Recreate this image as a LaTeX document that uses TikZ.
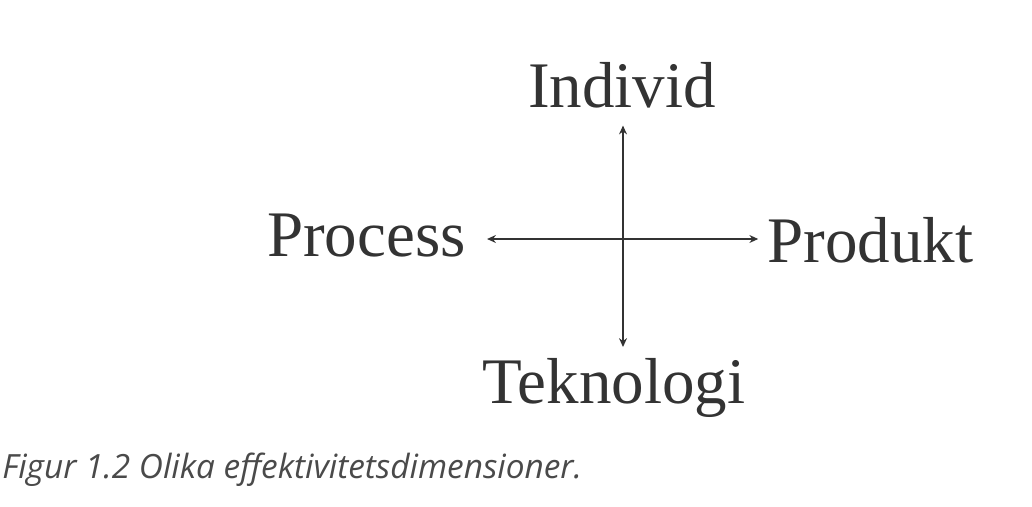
\documentclass[tikz,border=0pt]{standalone}
\usepackage{fontspec}
\setmainfont{Liberation Serif}
\newfontfamily\capfont{Open Sans}
\usepackage{xcolor}
\usetikzlibrary{arrows.meta,positioning,calc}

\definecolor{inkgray}{HTML}{333333}
\definecolor{capgray}{HTML}{4A4A4A}

\tikzset{
  dimlabel/.style={inner sep=0pt,text=inkgray,font=\fontsize{37}{40}\selectfont},
  dimaxis/.style={{Stealth[length=5pt,width=4.5pt]}-{Stealth[length=5pt,width=4.5pt]},line width=1.6pt,draw=inkgray},
}

\begin{document}
\begin{tikzpicture}[x=0.02cm,y=-0.02cm]
  \useasboundingbox (0,0) rectangle (1032,507);

  \node[dimlabel,anchor=base] (individ) at (622,107) {Individ};
  \node[dimlabel,anchor=base east] (process) at (466,256) {Process};
  \node[dimlabel,anchor=base west] (produkt) at (767,262) {Produkt};
  \node[dimlabel,anchor=base] (teknologi) at (614,403) {Teknologi};
  \coordinate (mid) at (623,239);

  \draw[dimaxis,shorten <=12pt,shorten >=5pt] (process.east |- mid) -- (produkt.west |- mid);
  \draw[dimaxis,shorten <=10pt,shorten >=6pt] (mid |- individ.south) -- (mid |- teknologi.north);

  \node[anchor=base west,inner sep=0pt,text=capgray,font=\capfont\itshape\fontsize{19}{21}\selectfont] (caption) at (2,478) {Figur 1.2 Olika effektivitetsdimensioner.};
\end{tikzpicture}
\end{document}
